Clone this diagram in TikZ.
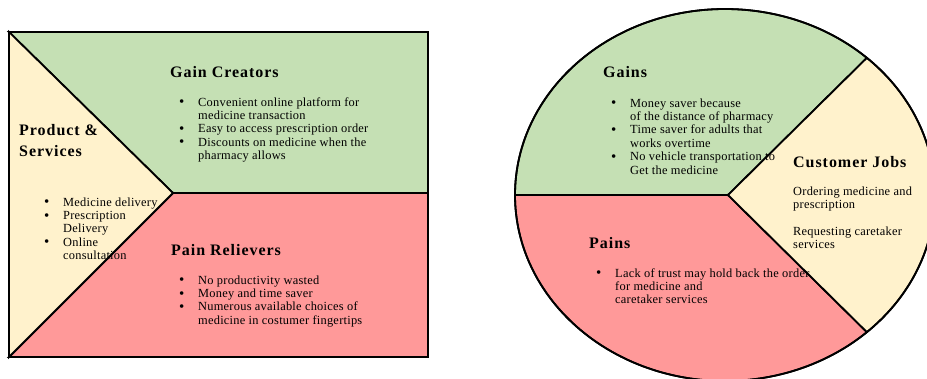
\documentclass[tikz,border=0pt]{standalone}
\usepackage{fontspec}
\setmainfont{Liberation Serif}
\definecolor{gaingreen}{RGB}{197,224,180}
\definecolor{painred}{RGB}{255,153,153}
\definecolor{jobyellow}{RGB}{255,242,204}
\newcommand{\bodyfont}{\fontsize{12.4}{13.4}\selectfont\addfontfeatures{LetterSpace=2}}
\newcommand{\headfont}{\fontsize{16}{21}\selectfont\bfseries\addfontfeatures{LetterSpace=6}}
\newcommand{\bul}{\makebox[19pt][l]{\raisebox{-0.6pt}{\fontsize{15}{13}\selectfont\textbullet}}}
\newcommand{\ind}{\hspace{19pt}}
\tikzset{
  region/.style={draw=black, line width=1.8pt, line join=miter},
  heading/.style={anchor=base west, inner sep=0pt, font=\headfont, align=left},
  body/.style={anchor=base west, inner sep=0pt, font=\bodyfont},
}
\begin{document}
\begin{tikzpicture}[x=1pt, y=-1pt]
\useasboundingbox (0,0) rectangle (927,378);
\clip (0,0) rectangle (927,378);

% ---- value map: rectangle split in three regions
\coordinate (tl) at (9,32);
\coordinate (tr) at (428,32);
\coordinate (bl) at (9,357);
\coordinate (br) at (428,357);
\coordinate (apx) at (173,193);
\coordinate (midr) at (428,193);

\filldraw[region, fill=gaingreen] (tl) -- (tr) -- (midr) -- (apx) -- cycle;
\filldraw[region, fill=painred] (apx) -- (midr) -- (br) -- (bl) -- cycle;
\filldraw[region, fill=jobyellow] (tl) -- (apx) -- (bl) -- cycle;
\draw[line width=2.4pt] (tl) rectangle (br);

% ---- customer profile: ellipse split in three sectors
\coordinate (ec) at (725,195);
\coordinate (cen) at (728,195);
\coordinate (eleft) at (515,195);
\coordinate (eup) at (866.9,57.9);
\coordinate (elow) at (866.9,332.1);

\filldraw[region, fill=gaingreen] (cen) -- (eleft)
  arc[start angle=180, end angle=47.5, x radius=210pt, y radius=186pt] -- cycle;
\filldraw[region, fill=painred] (cen) -- (eleft)
  arc[start angle=180, end angle=312.5, x radius=210pt, y radius=186pt] -- cycle;
\filldraw[region, fill=jobyellow] (cen) -- (elow)
  arc[start angle=-47.5, end angle=47.5, x radius=210pt, y radius=186pt] -- cycle;
\draw[line width=1.8pt] (ec) ellipse [x radius=210pt, y radius=186pt];

% ---- texts of the value map
\node[heading] (gc) at (170,77) {Gain Creators};
\node[body] (gcl) at (179,106) {\begin{tabular}[t]{@{}l@{}}
\bul Convenient online platform for\\
\ind medicine transaction\\
\bul Easy to access prescription order\\
\bul Discounts on medicine when the\\
\ind pharmacy allows
\end{tabular}};

\node[heading] (ps) at (19,156) {Product \&\\Services};
\node[body] (psl) at (44,206) {\begin{tabular}[t]{@{}l@{}}
\bul Medicine delivery\\
\bul Prescription\\
\ind Delivery\\
\bul Online\\
\ind consultation
\end{tabular}};

\node[heading] (pr) at (171,255) {Pain Relievers};
\node[body] (prl) at (179,284) {\begin{tabular}[t]{@{}l@{}}
\bul No productivity wasted\\
\bul Money and time saver\\
\bul Numerous available choices of\\
\ind medicine in costumer fingertips
\end{tabular}};

% ---- texts of the customer profile
\node[heading] (ga) at (603,77) {Gains};
\node[body] (gal) at (611,107) {\begin{tabular}[t]{@{}l@{}}
\bul Money saver because\\
\ind of the distance of pharmacy\\
\bul Time saver for adults that\\
\ind works overtime\\
\bul No vehicle transportation to\\
\ind Get the medicine
\end{tabular}};

\node[heading] (cj) at (793,167) {Customer Jobs};
\node[body] (cjl) at (793,195) {\begin{tabular}[t]{@{}l@{}}
Ordering medicine and\\
prescription\\
\\
Requesting caretaker\\
services
\end{tabular}};

\node[heading] (pa) at (589,248) {Pains};
\node[body] (pal) at (596,277) {\begin{tabular}[t]{@{}l@{}}
\bul Lack of trust may hold back the order\\
\ind for medicine and\\
\ind caretaker services
\end{tabular}};
\end{tikzpicture}
\end{document}
